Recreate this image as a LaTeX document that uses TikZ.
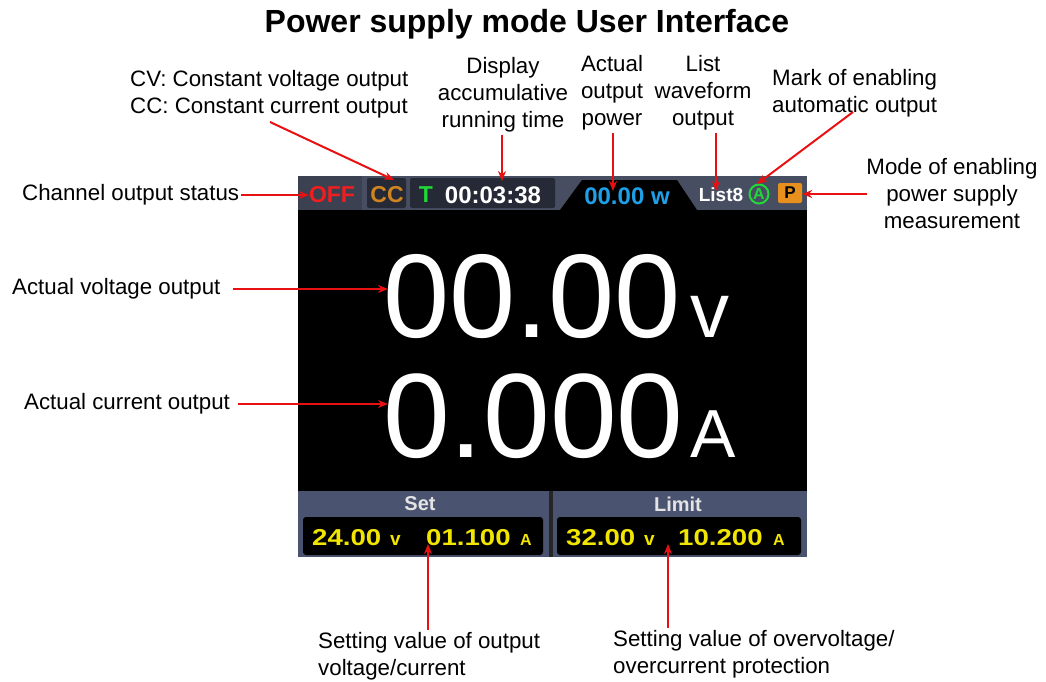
\documentclass[tikz,border=0pt]{standalone}
\usepackage{fontspec}
\setmainfont{Liberation Sans}
\usetikzlibrary{arrows.meta}
\definecolor{barbg}{HTML}{484E62}
\definecolor{offbg}{HTML}{3C4152}
\definecolor{boxbg}{HTML}{262A36}
\definecolor{panelbg}{HTML}{4A5470}
\definecolor{offred}{HTML}{F01E1E}
\definecolor{ccorange}{HTML}{D08420}
\definecolor{tgreen}{HTML}{22D838}
\definecolor{pwblue}{HTML}{1EA0E8}
\definecolor{porange}{HTML}{E8901E}
\definecolor{yel}{HTML}{F2E600}
\definecolor{hdr}{HTML}{E4E4E4}
\definecolor{arrred}{HTML}{E81010}
\tikzset{
  lbl/.style={inner sep=0pt, font=\fontsize{22.3}{27}\selectfont},
  arr/.style={draw=arrred, line width=2pt, -{Stealth[length=10pt,width=8pt]}},
  scr/.style={inner sep=0pt},
  yeldig/.style={scr, anchor=base west, text=yel, font=\bfseries\fontsize{23}{23}\selectfont},
  yelunitv/.style={scr, anchor=base west, text=yel, font=\bfseries\fontsize{19}{19}\selectfont},
  yelunita/.style={scr, anchor=base west, text=yel, font=\bfseries\fontsize{16}{16}\selectfont},
}
\begin{document}
\begin{tikzpicture}[x=1pt,y=-1pt]
\useasboundingbox (0,0) rectangle (1046,682);
% title
\node[inner sep=0pt, font=\bfseries\fontsize{32}{32}\selectfont] (title) at (527,24) {Power supply mode User Interface};
% ---------- screen ----------
\fill[barbg] (298,176) rectangle (807,210);
\fill[offbg] (298,176) rectangle (362,210);
\fill[boxbg, rounded corners=2pt] (367,178) rectangle (406,208);
\fill[boxbg, rounded corners=2pt] (410,178) rectangle (555,208);
\fill[black] (560,210) -- (582,180) -- (677,180) -- (697,210) -- cycle;
\fill[black] (298,210) rectangle (807,491);
\fill[black!85] (298,491) rectangle (807,557);
\fill[panelbg] (298,491) rectangle (549,557);
\fill[panelbg] (553,491) rectangle (807,557);
\fill[black, rounded corners=3pt] (303,517) rectangle (543,555);
\fill[black, rounded corners=3pt] (557,517) rectangle (801,555);
% top bar texts
\node[scr, text=offred, font=\bfseries\fontsize{23}{23}\selectfont] (off) at (332,195) {OFF};
\node[scr, text=ccorange, font=\bfseries\fontsize{23}{23}\selectfont] (cc) at (387,195) {CC};
\node[scr, text=tgreen, font=\bfseries\fontsize{23}{23}\selectfont] (tmark) at (426,195) {T};
\node[scr, text=white, font=\bfseries\fontsize{24}{24}\selectfont] (time) at (493,195) {00:03:38};
\node[scr, text=pwblue, font=\bfseries\fontsize{24}{24}\selectfont] (pw) at (627,196) {00.00 w};
\node[scr, text=white, font=\bfseries\fontsize{19}{19}\selectfont] (list8) at (721,195) {List8};
\draw[tgreen, line width=2pt] (759,194) circle (9.5);
\node[scr, text=tgreen, font=\bfseries\fontsize{16}{16}\selectfont] (amark) at (759,194) {A};
\node[scr, fill=porange, rounded corners=2pt, minimum width=24pt, minimum height=20pt, font=\bfseries\fontsize{17}{17}\selectfont] (pmark) at (790,193) {P};
% big readouts
\node[scr, anchor=base west, text=white, font=\fontsize{119}{119}\selectfont] (volt) at (383,337) {00.00};
\node[scr, anchor=base west, text=white, font=\fontsize{78}{78}\selectfont] (vunit) at (690,337) {v};
\node[scr, anchor=base west, text=white, font=\fontsize{120}{120}\selectfont] (curr) at (383,457) {0.000};
\node[scr, anchor=base west, text=white, font=\fontsize{68}{68}\selectfont] (aunit) at (690,457) {A};
% bottom panels
\node[scr, text=hdr, font=\bfseries\fontsize{20}{20}\selectfont] (sethdr) at (420,504) {Set};
\node[scr, text=hdr, font=\bfseries\fontsize{20}{20}\selectfont] (limhdr) at (678,504) {Limit};
\node[yeldig] (setv) at (312,545) {\scalebox{1.2}[1]{24.00}};
\node[yelunitv] (setvu) at (390,545) {v};
\node[yeldig] (seta) at (426,545) {\scalebox{1.2}[1]{01.100}};
\node[yelunita] (setau) at (520,545) {A};
\node[yeldig] (limv) at (566,545) {\scalebox{1.2}[1]{32.00}};
\node[yelunitv] (limvu) at (644,545) {v};
\node[yeldig] (lima) at (678,545) {\scalebox{1.2}[1]{10.200}};
\node[yelunita] (limau) at (773,545) {A};
% ---------- labels ----------
\node[lbl, anchor=west, align=left] (cvcc) at (130,94) {CV: Constant voltage output\\CC: Constant current output};
\node[lbl, align=center] (disp) at (503,95) {Display\\accumulative\\running time};
\node[lbl, align=center] (power) at (612,93) {Actual\\output\\power};
\node[lbl, align=center] (listl) at (703,93) {List\\waveform\\output};
\node[lbl, anchor=west, align=left] (markl) at (772,93) {Mark of enabling\\automatic output};
\node[lbl, align=center] (model) at (952,194) {Mode of enabling\\power supply\\measurement};
\node[lbl, anchor=west] (chan) at (22,195) {Channel output status};
\node[lbl, anchor=west] (voltl) at (12,289) {Actual voltage output};
\node[lbl, anchor=west] (currl) at (24,404) {Actual current output};
\node[lbl, anchor=west, align=left] (setl) at (318,656) {Setting value of output\\voltage/current};
\node[lbl, anchor=west, align=left] (liml) at (613,654) {Setting value of overvoltage/\\overcurrent protection};
% ---------- arrow end points ----------
\coordinate (cvs) at (270,122);
\coordinate (cvt) at (394,180);
\coordinate (dispt) at (502,181);
\coordinate (pwt) at (613,191);
\coordinate (listt) at (716,191);
\coordinate (marks) at (853,112);
\coordinate (markt) at (757,184);
\coordinate (modes) at (867,194);
\coordinate (voltt) at (388,289);
\coordinate (currt) at (388,404);
\coordinate (sett) at (428,544);
\coordinate (limt) at (668,544);
% ---------- arrows ----------
\draw[arr] (cvs) -- (cvt);
\draw[arr] (disp.south -| dispt) ++(0,2) -- (dispt);
\draw[arr] (power.south -| pwt) ++(0,2) -- (pwt);
\draw[arr] (listl.south -| listt) ++(0,2) -- (listt);
\draw[arr] (marks) -- (markt);
\draw[arr] (modes) -- (pmark.east |- modes);
\draw[arr] ([xshift=2pt]chan.east) -- (off.west);
\draw[arr] ([xshift=12pt]voltl.east) -- (voltt);
\draw[arr] ([xshift=8pt]currl.east) -- (currt);
\draw[arr] (setl.north -| sett) ++(0,-2) -- (sett);
\draw[arr] (liml.north -| limt) ++(0,-2) -- (limt);
\end{tikzpicture}
\end{document}
